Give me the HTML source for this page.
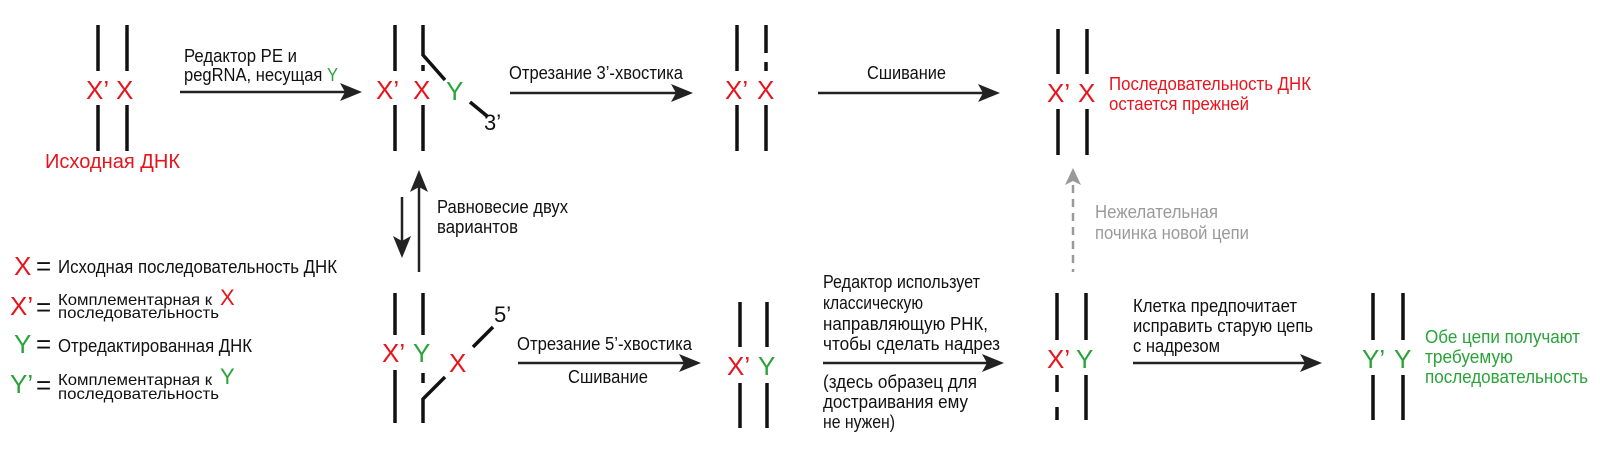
<!DOCTYPE html>
<html><head><meta charset="utf-8"><style>
html,body{margin:0;padding:0;background:#fff;}
svg{display:block}
text{font-family:"Liberation Sans","Noto Sans CJK SC",sans-serif;}
</style></head><body>
<svg width="1600" height="451" viewBox="0 0 1600 451" xmlns="http://www.w3.org/2000/svg">
<g stroke="#111" stroke-width="3.5" fill="none">
<line x1="98" y1="25" x2="98" y2="71"/><line x1="98" y1="105" x2="98" y2="151"/>
<line x1="127" y1="25" x2="127" y2="71"/><line x1="127" y1="105" x2="127" y2="151"/>
<line x1="395" y1="25" x2="395" y2="71"/><line x1="395" y1="105" x2="395" y2="151"/>
<polyline points="423,25 423,55 445,80"/>
<line x1="423" y1="65" x2="423" y2="71"/>
<line x1="423" y1="105" x2="423" y2="151"/>
<line x1="470" y1="102" x2="487" y2="116"/>
<line x1="737" y1="25" x2="737" y2="71"/><line x1="737" y1="105" x2="737" y2="151"/>
<line x1="766" y1="25" x2="766" y2="53"/><line x1="766" y1="62" x2="766" y2="71"/><line x1="766" y1="105" x2="766" y2="151"/>
<line x1="1058" y1="29" x2="1058" y2="74"/><line x1="1058" y1="109" x2="1058" y2="155"/>
<line x1="1087" y1="29" x2="1087" y2="74"/><line x1="1087" y1="109" x2="1087" y2="155"/>
<line x1="395" y1="293" x2="395" y2="335"/><line x1="395" y1="370" x2="395" y2="423"/>
<line x1="423" y1="293" x2="423" y2="335"/><line x1="423" y1="373" x2="423" y2="383"/>
<polyline points="423,423 423,399 445,377"/>
<line x1="473" y1="347" x2="493" y2="327"/>
<line x1="740" y1="302" x2="740" y2="347"/><line x1="740" y1="383" x2="740" y2="428"/>
<line x1="767" y1="302" x2="767" y2="347"/><line x1="767" y1="383" x2="767" y2="428"/>
<line x1="1057" y1="293" x2="1057" y2="340"/><line x1="1057" y1="375" x2="1057" y2="392"/><line x1="1057" y1="407" x2="1057" y2="420"/>
<line x1="1086" y1="293" x2="1086" y2="340"/><line x1="1086" y1="375" x2="1086" y2="420"/>
<line x1="1373" y1="293" x2="1373" y2="340"/><line x1="1373" y1="375" x2="1373" y2="420"/>
<line x1="1403" y1="293" x2="1403" y2="340"/><line x1="1403" y1="375" x2="1403" y2="420"/>
</g>
<g stroke="#222" stroke-width="2.5">
<line x1="180" y1="92" x2="350" y2="92"/>
<line x1="510" y1="93" x2="680" y2="93"/>
<line x1="818" y1="93" x2="988" y2="93"/>
<line x1="518" y1="363" x2="688" y2="363"/>
<line x1="823" y1="363" x2="992" y2="363"/>
<line x1="1133" y1="363" x2="1310" y2="363"/>
<line x1="419" y1="186" x2="419" y2="272"/>
<line x1="402" y1="197" x2="402" y2="243"/>
</g>
<g fill="#222">
<polygon points="362,92 340,83 345,92 340,101"/>
<polygon points="693,93 671,84 676,93 671,102"/>
<polygon points="1000,93 978,84 983,93 978,102"/>
<polygon points="701,363 679,354 684,363 679,372"/>
<polygon points="1004,363 982,354 987,363 982,372"/>
<polygon points="1322,363 1300,354 1305,363 1300,372"/>
<polygon points="419,170 410,192 419,187 428,192"/>
<polygon points="402,258 393,236 402,241 411,236"/>
</g>
<line x1="1073" y1="185" x2="1073" y2="272" stroke="#999" stroke-width="2.5" stroke-dasharray="8,6"/>
<polygon points="1073,168 1065,185 1073,181 1081,185" fill="#999"/>

<g font-size="26">
<text x="86" y="99" fill="#e8141c">X’</text><text x="116" y="99" fill="#e8141c">X</text>
<text x="376" y="99" fill="#e8141c">X’</text><text x="413" y="99" fill="#e8141c">X</text>
<text x="446" y="100" fill="#2aa33a">Y</text>
<text x="725" y="99" fill="#e8141c">X’</text><text x="757" y="99" fill="#e8141c">X</text>
<text x="1047" y="102" fill="#e8141c">X’</text><text x="1078" y="102" fill="#e8141c">X</text>
<text x="382" y="362" fill="#e8141c">X’</text><text x="413" y="362" fill="#2aa33a">Y</text>
<text x="449" y="372" fill="#e8141c">X</text>
<text x="727" y="375" fill="#e8141c">X’</text><text x="758" y="375" fill="#2aa33a">Y</text>
<text x="1047" y="368" fill="#e8141c">X’</text><text x="1076" y="368" fill="#2aa33a">Y</text>
<text x="1362" y="368" fill="#2aa33a">Y’</text><text x="1394" y="368" fill="#2aa33a">Y</text>
<text x="14" y="275" fill="#e8141c">X</text>
<text x="10" y="315" fill="#e8141c">X’</text>
<text x="14" y="353" fill="#2aa33a">Y</text>
<text x="10" y="393" fill="#2aa33a">Y’</text>
<text x="484" y="130" fill="#111" font-size="22">3’</text>
<text x="494" y="322" fill="#111" font-size="22">5’</text>
<text x="220" y="305" fill="#e8141c" font-size="22">X</text>
<text x="220" y="384" fill="#2aa33a" font-size="22">Y</text>
</g>
<g font-size="26" fill="#111">
<text x="36" y="275">=</text><text x="36" y="316">=</text><text x="36" y="353">=</text><text x="36" y="394">=</text>
</g>

<g font-size="18" fill="#111">
<text x="184" y="62" textLength="113" lengthAdjust="spacingAndGlyphs">Редактор PE и</text>
<text x="184" y="81" textLength="154" lengthAdjust="spacingAndGlyphs">pegRNA, несущая <tspan fill="#2aa33a">Y</tspan></text>
<text x="509" y="79" textLength="174" lengthAdjust="spacingAndGlyphs">Отрезание 3’-хвостика</text>
<text x="867" y="79" textLength="79" lengthAdjust="spacingAndGlyphs">Сшивание</text>
<text x="437" y="213" textLength="131" lengthAdjust="spacingAndGlyphs">Равновесие двух</text>
<text x="437" y="233" textLength="81" lengthAdjust="spacingAndGlyphs">вариантов</text>
<text x="58" y="273" textLength="279" lengthAdjust="spacingAndGlyphs">Исходная последовательность ДНК</text>
<text x="58" y="305" font-size="16" textLength="154" lengthAdjust="spacingAndGlyphs">Комплементарная к</text>
<text x="58" y="318" font-size="16" textLength="161" lengthAdjust="spacingAndGlyphs">последовательность</text>
<text x="58" y="352" textLength="194" lengthAdjust="spacingAndGlyphs">Отредактированная ДНК</text>
<text x="58" y="385" font-size="16" textLength="154" lengthAdjust="spacingAndGlyphs">Комплементарная к</text>
<text x="58" y="399" font-size="16" textLength="161" lengthAdjust="spacingAndGlyphs">последовательность</text>
<text x="517" y="350" textLength="175" lengthAdjust="spacingAndGlyphs">Отрезание 5’-хвостика</text>
<text x="568" y="383" textLength="80" lengthAdjust="spacingAndGlyphs">Сшивание</text>
<text x="823" y="288" textLength="157" lengthAdjust="spacingAndGlyphs">Редактор использует</text>
<text x="823" y="309" textLength="100" lengthAdjust="spacingAndGlyphs">классическую</text>
<text x="823" y="330" textLength="165" lengthAdjust="spacingAndGlyphs">направляющую РНК,</text>
<text x="823" y="350" textLength="177" lengthAdjust="spacingAndGlyphs">чтобы сделать надрез</text>
<text x="823" y="388" textLength="154" lengthAdjust="spacingAndGlyphs">(здесь образец для</text>
<text x="823" y="408" textLength="145" lengthAdjust="spacingAndGlyphs">достраивания ему</text>
<text x="823" y="428" textLength="72" lengthAdjust="spacingAndGlyphs">не нужен)</text>
<text x="1133" y="312" textLength="164" lengthAdjust="spacingAndGlyphs">Клетка предпочитает</text>
<text x="1133" y="332" textLength="180" lengthAdjust="spacingAndGlyphs">исправить старую цепь</text>
<text x="1133" y="352" textLength="87" lengthAdjust="spacingAndGlyphs">с надрезом</text>
</g>
<g font-size="18">
<text x="45" y="168" fill="#e8141c" font-size="20" textLength="135" lengthAdjust="spacingAndGlyphs">Исходная ДНК</text>
<text x="1109" y="90" fill="#e8141c" textLength="202" lengthAdjust="spacingAndGlyphs">Последовательность ДНК</text>
<text x="1109" y="110" fill="#e8141c" textLength="140" lengthAdjust="spacingAndGlyphs">остается прежней</text>
<text x="1095" y="218" fill="#9a9a9a" textLength="123" lengthAdjust="spacingAndGlyphs">Нежелательная</text>
<text x="1095" y="239" fill="#9a9a9a" textLength="154" lengthAdjust="spacingAndGlyphs">починка новой цепи</text>
<text x="1425" y="343" fill="#2aa33a" textLength="155" lengthAdjust="spacingAndGlyphs">Обе цепи получают</text>
<text x="1425" y="363" fill="#2aa33a" textLength="88" lengthAdjust="spacingAndGlyphs">требуемую</text>
<text x="1425" y="383" fill="#2aa33a" textLength="163" lengthAdjust="spacingAndGlyphs">последовательность</text>
</g>
</svg>
</body></html>
